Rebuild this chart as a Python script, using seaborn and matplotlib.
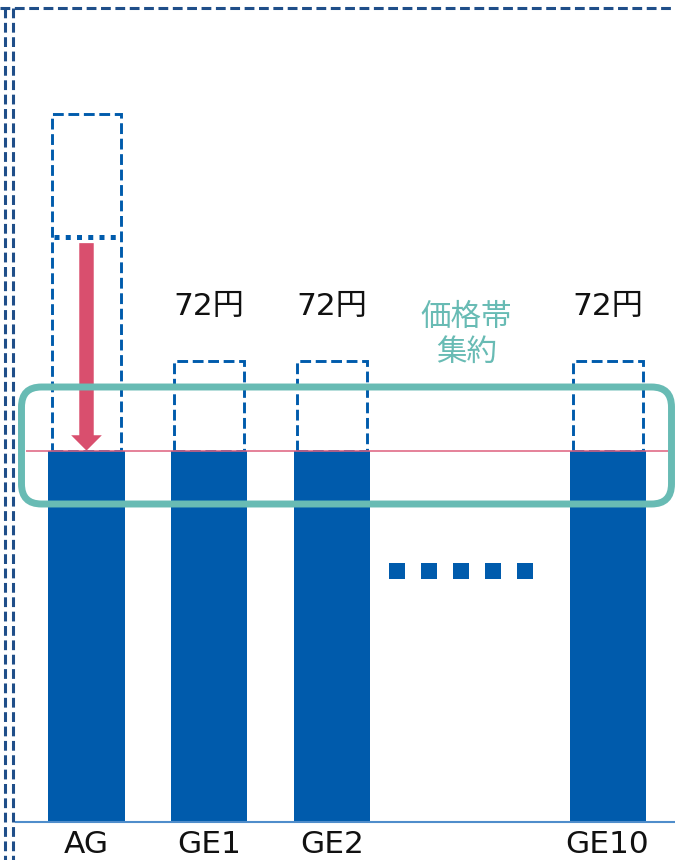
import numpy as np
import pandas as pd
import matplotlib
matplotlib.use("Agg")
import matplotlib.pyplot as plt
import matplotlib.patches as mpatches
import matplotlib.lines as mlines
from matplotlib.transforms import Affine2D
import seaborn as sns

# Products and their prices
products = ["AG", "GE1", "GE2", "GE10"]
slots = [0, 1, 2, 4.25]            # horizontal slot of each product (gap stands for GE3-GE9)
band_price = [58, 58, 58, 58]      # consolidated price band
ge_slots = [1, 2, 4.25]
ge_price = [72, 72, 72]            # generic list prices
ge_labels = ["72円", "72円", "72円"]
ag_price_high = 110.6              # authorised generic, original price
ag_price_mid = 91.4                # authorised generic, intermediate price
group_label = "価格帯\n集約"

W, H = 675, 860
BLUE = "#005BAC"
NAVY = "#1F4E89"
PINK = "#D94F6E"
PINK_LINE = "#DE5F7D"
TEAL = "#68BBB4"
BASE = "#4F8DCB"
FS = 22.5

sns.set_theme(style="white")
plt.rcParams["font.family"] = ["DejaVu Sans", "Noto Sans CJK JP"]

fig = plt.figure(figsize=(W / 100, H / 100), dpi=100)
ax = fig.add_axes([0, 0, 1, 1])

# solid bars at the consolidated band price
band = pd.DataFrame({"slot": slots, "price": band_price})
sns.barplot(data=band, x="slot", y="price", native_scale=True, width=0.62,
            color=BLUE, saturation=1, linewidth=0, errorbar=None, ax=ax, zorder=2)

# dashed outlines: generic prices above the band
ge = pd.DataFrame({"slot": ge_slots, "price": ge_price})
ge["extra"] = ge["price"] - band_price[1]
sns.barplot(data=ge, x="slot", y="extra", bottom=band_price[1], native_scale=True,
            width=0.57, fill=False, color=BLUE, saturation=1, linestyle="--",
            linewidth=2.1, errorbar=None, ax=ax, zorder=3)

# dashed outline: authorised generic original price
ag = pd.DataFrame({"slot": [slots[0]], "extra": [ag_price_high - band_price[0]]})
sns.barplot(data=ag, x="slot", y="extra", bottom=band_price[0], native_scale=True,
            width=0.57, fill=False, color=BLUE, saturation=1, linestyle="--",
            linewidth=2.1, errorbar=None, ax=ax, zorder=3)

# dotted level: authorised generic intermediate price
ax.hlines(ag_price_mid, slots[0] - 0.265, slots[0] + 0.258, color=BLUE,
          linewidth=3.6, linestyle=(0, (1.0, 1.25)), capstyle="butt", zorder=4)

# thin band line
ax.hlines(band_price[0], -0.493, 4.743, color=PINK_LINE, linewidth=1.1, zorder=3)

# axis baseline
ax.hlines(0, -0.583, 4.85, color=BASE, linewidth=1.5, zorder=4)

# price drop arrow
arrow = mpatches.FancyArrow(slots[0], ag_price_mid - 1.0, 0,
                            -(ag_price_mid - 1.0 - band_price[0]),
                            width=0.118, head_width=0.25, head_length=2.4,
                            length_includes_head=True, color=PINK, lw=0, zorder=5)
ax.add_patch(arrow)

# ellipsis between GE2 and GE10
dot_x = np.linspace(2.533, 3.577, 5)
sns.scatterplot(x=dot_x, y=[39.2] * 5, marker="s", s=132, color=BLUE,
                linewidth=0, ax=ax, zorder=4, legend=False)

# value labels
for xs, p, lab in zip(ge_slots, ge_price, ge_labels):
    ax.annotate(lab, (xs, p), xytext=(0, 33), textcoords="offset points",
                ha="center", va="baseline", fontsize=FS, color="#111111")

# product labels
for xs, lab in zip(slots, products):
    ax.annotate(lab, (xs, 0), xytext=(0, -22.3), textcoords="offset points",
                ha="center", va="baseline", fontsize=FS, color="#111111")

ax.text(3.1, 76.1, group_label, ha="center", va="center", color=TEAL,
        fontsize=22, linespacing=1.15, family=["Noto Sans CJK JP"])

ax.set_xlim(-0.7055, 4.800)
ax.set_ylim(-5.93, 128.37)
ax.set_axis_off()

# pixel coordinates measured from the top-left corner
pix = Affine2D().scale(1, -1).translate(0, H)

# rounded highlight around the price band
box = mpatches.FancyBboxPatch((21.5, H - 504), 650, 117,
                              boxstyle="round,pad=0,rounding_size=20",
                              transform=Affine2D().translate(0, 0),
                              lw=5, ec=TEAL, fc="none", zorder=6)
fig.add_artist(box)

# dashed panel frame
frame_kw = dict(color=NAVY, lw=2.2, linestyle=(0, (3.2, 1.5)), transform=pix, zorder=6)
fig.add_artist(mlines.Line2D([5, 5], [8, H], **frame_kw))
fig.add_artist(mlines.Line2D([12.5, 12.5], [8, H], **frame_kw))
fig.add_artist(mlines.Line2D([0, W], [8, 8], **frame_kw))

fig.savefig("out.png", dpi=100)
